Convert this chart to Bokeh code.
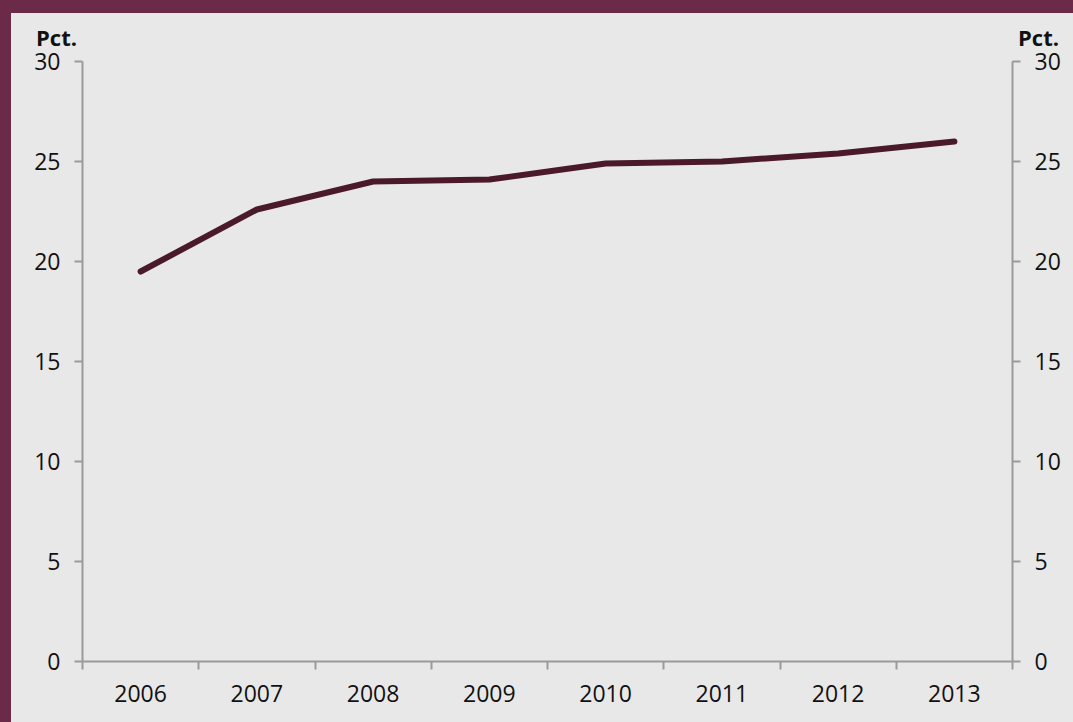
from bokeh.plotting import figure
from bokeh.models import Range1d, FixedTicker, LinearAxis, Div
from bokeh.layouts import column, row
from bokeh.embed import file_html
from bokeh.resources import INLINE

years = ["2006", "2007", "2008", "2009", "2010", "2011", "2012", "2013"]
share = [19.5, 22.6, 24.0, 24.1, 24.9, 25.0, 25.4, 26.0]
y_ticks = [0, 5, 10, 15, 20, 25, 30]
unit_label = "Pct."

BG = "#e8e8e8"
FRAME = "#6b2a48"
LINE = "#4a1a2a"
AXIS = "#9a9a9a"
FONT = "Open Sans"

xs = [i + 0.5 for i in range(len(years))]

p = figure(width=1062, height=683, output_backend="svg", toolbar_location=None,
           x_range=Range1d(0, len(years)), y_range=Range1d(0, 30),
           min_border_left=71, min_border_right=61, min_border_top=22, min_border_bottom=61,
           background_fill_color=BG, border_fill_color=BG, outline_line_color=None,
           x_axis_type=None, y_axis_type=None)
p.grid.visible = False

p.line(xs, share, line_color=LINE, line_width=6, line_cap="round", line_join="round")

def style_axis(ax):
    ax.axis_line_color = AXIS
    ax.axis_line_width = 2
    ax.major_tick_line_color = AXIS
    ax.major_tick_line_width = 2
    ax.minor_tick_line_color = AXIS
    ax.minor_tick_line_width = 2
    ax.major_label_text_font = FONT
    ax.major_label_text_font_size = "23px"
    ax.major_label_text_color = "#111111"

xaxis = LinearAxis(ticker=FixedTicker(ticks=xs, minor_ticks=list(range(len(years) + 1))),
                   major_label_overrides={x: y for x, y in zip(xs, years)})
style_axis(xaxis)
xaxis.major_tick_out = 0
xaxis.major_tick_in = 0
xaxis.minor_tick_out = 8
xaxis.minor_tick_in = 0
xaxis.major_label_standoff = 15
p.add_layout(xaxis, "below")

for side in ["left", "right"]:
    ax = LinearAxis(ticker=FixedTicker(ticks=y_ticks))
    style_axis(ax)
    ax.major_tick_out = 8
    ax.major_tick_in = 0
    ax.minor_tick_out = 0
    ax.major_label_standoff = 14
    p.add_layout(ax, side)

span_style = ("position:absolute; top:9px; font-family:'Open Sans'; font-weight:bold; "
              "font-size:22px; line-height:normal; color:#111111; white-space:nowrap;")
header_html = (f'<span style="{span_style} left:25px;">{unit_label}</span>'
               f'<span style="{span_style} left:1007px;">{unit_label}</span>')
header = Div(width=1062, height=26, margin=0, text=header_html,
             styles={"background-color": BG, "position": "relative", "overflow": "visible",
                     "z-index": "5"})

top_band = Div(width=1073, height=13, styles={"background-color": FRAME}, margin=0)
left_band = Div(width=11, height=709, styles={"background-color": FRAME}, margin=0)
p.margin = 0
inner = column(header, p, margin=0, styles={"background-color": BG})
layout = column(top_band, row(left_band, inner, margin=0), margin=0,
                styles={"background-color": BG})

open("out.html", "w").write(file_html(layout, INLINE))
